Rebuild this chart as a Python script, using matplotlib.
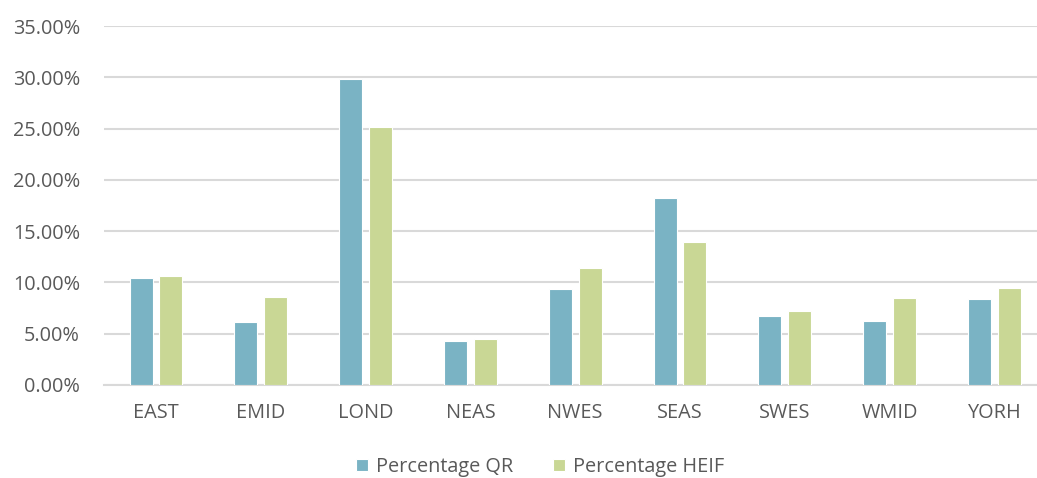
import numpy as np
import matplotlib
matplotlib.use("Agg")
import matplotlib.pyplot as plt
from matplotlib.ticker import PercentFormatter

# regions and the two series (fractions)
regions = ["EAST", "EMID", "LOND", "NEAS", "NWES", "SEAS", "SWES", "WMID", "YORH"]
pct_qr = [0.1040, 0.0617, 0.2982, 0.0426, 0.0933, 0.1826, 0.0672, 0.0620, 0.0838]
pct_heif = [0.1065, 0.0861, 0.2520, 0.0452, 0.1137, 0.1390, 0.0718, 0.0851, 0.0945]
yticks = np.arange(0, 0.351, 0.05)

plt.rcParams['font.family'] = ['Open Sans', 'DejaVu Sans']
txt_col = '#595959'
grid_col = '#d9d9d9'

fig = plt.figure(figsize=(10.37, 4.78), dpi=100)
# axes runs slightly past the right edge, like the cropped original
ax = fig.add_axes([103.6/1037, 93/478, (1046.8-103.6)/1037, 359/478])

x = np.arange(len(regions))
w = 0.22
off = 0.142
ax.bar(x - off, pct_qr, width=w, color='#7ab3c4', edgecolor='white', linewidth=0.8,
       label='Percentage QR', zorder=3)
ax.bar(x + off, pct_heif, width=w, color='#c9d795', edgecolor='white', linewidth=0.8,
       label='Percentage HEIF', zorder=3)

ax.set_xlim(-0.5, len(regions) - 0.5)
ax.set_ylim(0, 0.35)
ax.set_yticks(yticks)
ax.yaxis.set_major_formatter(PercentFormatter(1.0, decimals=2))
ax.set_xticks(x)
ax.set_xticklabels(regions)
ax.grid(axis='y', color=grid_col, linewidth=1.5, zorder=0)
ax.set_axisbelow(True)
for s in ['top', 'right', 'left']:
    ax.spines[s].set_visible(False)
ax.spines['bottom'].set_color(grid_col)
ax.spines['bottom'].set_linewidth(1.5)
ax.tick_params(axis='both', length=0, colors=txt_col, labelsize=14.3)
ax.tick_params(axis='y', pad=17)
ax.tick_params(axis='x', pad=13)

fig.legend(loc='center', bbox_to_anchor=(540/1037, 1 - 467/478), ncol=2, frameon=False,
           fontsize=14.3, labelcolor=txt_col, handlelength=0.6, handleheight=0.6,
           handletextpad=0.4, columnspacing=2.0)

plt.savefig("out.png", dpi=100)
